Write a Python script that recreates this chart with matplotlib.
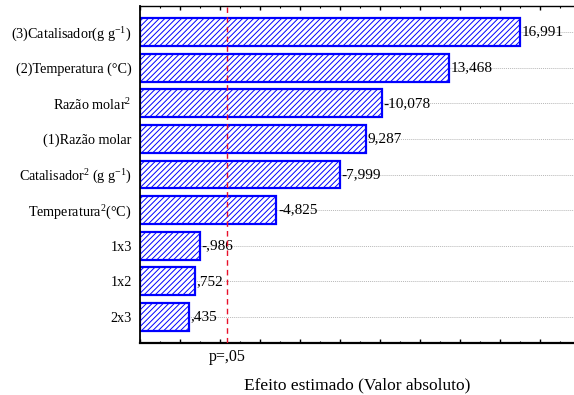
import matplotlib
matplotlib.use("Agg")
import matplotlib.pyplot as plt
from matplotlib.ticker import MultipleLocator
from matplotlib.transforms import blended_transform_factory

plt.rcParams["font.family"] = ["Liberation Serif", "DejaVu Serif"]
plt.rcParams["mathtext.fontset"] = "custom"
plt.rcParams["mathtext.rm"] = "Liberation Serif"
plt.rcParams["mathtext.it"] = "Liberation Serif:italic"
plt.rcParams["hatch.linewidth"] = 0.7

# Standardized effects (Pareto chart), largest first
factors = [
    "(3)Catalisador(g g$^{\\mathregular{-1}}$)",
    "(2)Temperatura (°C)",
    "Razão molar$^{\\mathregular{2}}$",
    "(1)Razão molar",
    "Catalisador$^{\\mathregular{2}}$ (g g$^{\\mathregular{-1}}$)",
    "Temperatura$^{\\mathregular{2}}$(°C)",
    "1x3",
    "1x2",
    "2x3",
]
effects = [16.991, 13.468, -10.078, 9.287, -7.999, -4.825, -0.986, 0.752, 0.435]
p_critical = 2.365
p_label = "p=,05"
x_label = "Efeito estimado (Valor absoluto)"


def fmt(v):
    s = f"{v:.3f}".replace(".", ",")
    return s.replace("-0,", "-,") if s.startswith("-0,") else (s[1:] if s.startswith("0,") else s)


x_min, x_max = -2.0, 19.7
blue = "#0000ff"

fig = plt.figure(figsize=(5.74, 3.95), dpi=100)
ax = fig.add_axes([0.2439, 0.1316, 0.7561, 0.8532])

ypos = list(range(len(factors)))
mags = [abs(v) for v in effects]

for y in ypos:
    ax.axhline(y, color="#b8b8b8", lw=0.7, ls=(0, (1, 1)), zorder=0)

ax.barh(ypos, [m - x_min for m in mags], left=x_min, height=0.78,
        color="white", edgecolor=blue, hatch="//////", linewidth=1.6, zorder=2)

for y, m, v in zip(ypos, mags, effects):
    ax.text(m + 0.08, y, fmt(v), va="center", ha="left", fontsize=11, zorder=3)

ax.axvline(p_critical, color="#e8102a", lw=1.0, ls=(0, (4, 3)), zorder=4)

ax.set_xlim(x_min, x_max)
ax.set_ylim(len(factors) - 0.27, -0.73)
ax.set_yticks(ypos)
ax.set_yticklabels(factors, fontsize=10.2)
ax.tick_params(axis="y", length=0, pad=6)

ax.xaxis.set_major_locator(MultipleLocator(2))
ax.xaxis.set_minor_locator(MultipleLocator(1))
ax.tick_params(axis="x", which="both", direction="in", top=True, bottom=True,
               labelbottom=False, color="black")
ax.tick_params(axis="x", which="major", length=3, width=1)
ax.tick_params(axis="x", which="minor", length=1.5, width=0.8)

ax.spines["right"].set_visible(False)
ax.spines["left"].set_linewidth(1.3)
ax.spines["bottom"].set_linewidth(1.6)
ax.spines["top"].set_linewidth(1.0)

trans = blended_transform_factory(ax.transData, ax.transAxes)
ax.text(p_critical, -0.017, p_label, transform=trans, ha="center", va="top", fontsize=11.5)
ax.set_xlabel(x_label, fontsize=12.5, labelpad=25)

fig.savefig("out.png", dpi=100)
